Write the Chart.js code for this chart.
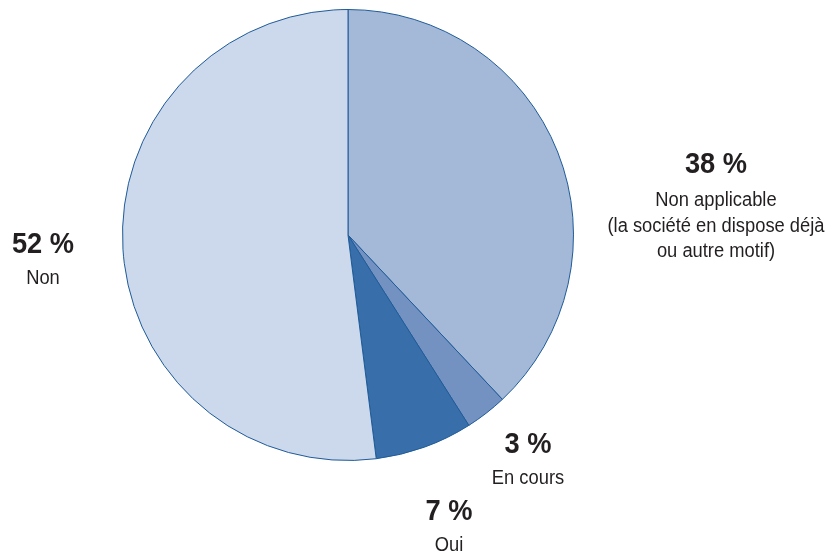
<!DOCTYPE html>
<html>
<head>
<meta charset="utf-8">
<script src="https://cdn.jsdelivr.net/npm/chart.js@4/dist/chart.umd.min.js"></script>
<style>
  html, body { margin: 0; padding: 0; background: #fff; }
  #wrap { width: 828px; height: 551px; position: relative; }
</style>
</head>
<body>
<div id="wrap"><canvas id="pieChart"></canvas></div>
<script>
const categories = ['Non applicable', 'En cours', 'Oui', 'Non'];
const values = [38, 3, 7, 52];
const sliceColors = ['#a4b8d8', '#7392c2', '#386fab', '#ccd8eb'];

// extra description lines under each category name
const subLines = [
    ['(la société en dispose déjà', 'ou autre motif)'],
    [],
    [],
    []
];

// label block: centre x, baseline of the percentage, baseline of the first name line
const labelAnchors = [
    { x: 716, y: 173, nameY: 206 },
    { x: 528, y: 453, nameY: 484 },
    { x: 449, y: 520, nameY: 551 },
    { x: 43, y: 253, nameY: 284 }
];

const FONT = '"Liberation Sans", Arial, sans-serif';
const SQUEEZE = 0.94;

function drawNarrow(ctx, text, x, y) {
    ctx.save();
    ctx.translate(x, y);
    ctx.scale(SQUEEZE, 1);
    ctx.fillText(text, 0, 0);
    ctx.restore();
}

const sliceLabels = {
    id: 'sliceLabels',
    afterDraw(chart) {
        const ctx = chart.ctx;
        ctx.save();
        ctx.fillStyle = '#231f20';
        ctx.textAlign = 'center';
        ctx.textBaseline = 'alphabetic';
        categories.forEach((name, i) => {
            const a = labelAnchors[i];
            ctx.font = 'bold 29px ' + FONT;
            drawNarrow(ctx, values[i] + ' %', a.x, a.y);
            ctx.font = '19.5px ' + FONT;
            [name].concat(subLines[i]).forEach((line, j) => {
                drawNarrow(ctx, line, a.x, a.nameY + j * 25.5);
            });
        });
        ctx.restore();
    }
};

new Chart(document.getElementById('pieChart'), {
    type: 'pie',
    data: {
        labels: categories,
        datasets: [{
            data: values,
            backgroundColor: sliceColors,
            borderColor: '#1f5b98',
            borderWidth: 1
        }]
    },
    options: {
        responsive: true,
        maintainAspectRatio: false,
        animation: false,
        layout: {
            padding: { top: 9, bottom: 90, left: 0, right: 132 }
        },
        plugins: {
            legend: { display: false },
            tooltip: { enabled: false }
        }
    },
    plugins: [sliceLabels]
});
</script>
</body>
</html>
